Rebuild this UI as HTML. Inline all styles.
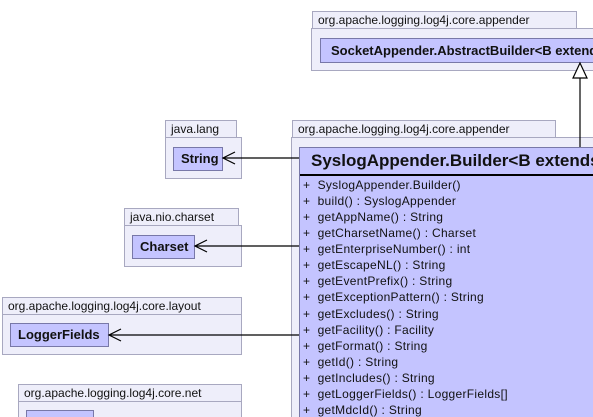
<!DOCTYPE html>
<html><head><meta charset="utf-8"><style>
body{margin:0;width:593px;height:417px;overflow:hidden;background:#fff;font-family:"Liberation Sans",sans-serif;position:relative}
.a{position:absolute;box-sizing:border-box}
.tab{background:#eeeefa;border:1px solid #a8a8c0;font-size:12px;line-height:16px;padding-left:5px;color:#111;white-space:nowrap;overflow:hidden}
.pk{background:#eeeefa;border:1px solid #a8a8c0}
.cl{background:#c4c4ff;border:1px solid #7878a8;font-weight:bold;font-size:13px;line-height:22px;padding-left:7px;white-space:nowrap;overflow:hidden;color:#111}
.m{font-size:12px;line-height:16.07px;white-space:nowrap;padding-left:3px;color:#111;letter-spacing:0.3px}
</style></head><body>
<div class="a pk" style="left:311px;top:28px;width:282px;height:43px;border-right:none"></div>
<div class="a tab" style="left:312px;top:11px;width:265px;height:18px">org.apache.logging.log4j.core.appender</div>
<div class="a cl" style="left:320px;top:38px;width:273px;height:25px;line-height:23px;padding-left:10px;border-right:none">SocketAppender.AbstractBuilder&lt;B extends</div>

<div class="a pk" style="left:291px;top:137px;width:302px;height:280px;border-right:none;border-bottom:none"></div>
<div class="a tab" style="left:292px;top:120px;width:264px;height:18px">org.apache.logging.log4j.core.appender</div>
<div class="a" style="left:299px;top:147px;width:294px;height:270px;background:#c4c4ff;border:1px solid #7878a8;border-right:none;border-bottom:none;overflow:hidden">
<div style="font-weight:bold;font-size:17px;line-height:26px;padding-left:11px;white-space:nowrap;color:#111">SyslogAppender.Builder&lt;B extends</div>
<div style="border-top:2px solid #000"></div>
<div style="padding-top:1px">
<div class="m">+&nbsp; SyslogAppender.Builder()</div>
<div class="m">+&nbsp; build() : SyslogAppender</div>
<div class="m">+&nbsp; getAppName() : String</div>
<div class="m">+&nbsp; getCharsetName() : Charset</div>
<div class="m">+&nbsp; getEnterpriseNumber() : int</div>
<div class="m">+&nbsp; getEscapeNL() : String</div>
<div class="m">+&nbsp; getEventPrefix() : String</div>
<div class="m">+&nbsp; getExceptionPattern() : String</div>
<div class="m">+&nbsp; getExcludes() : String</div>
<div class="m">+&nbsp; getFacility() : Facility</div>
<div class="m">+&nbsp; getFormat() : String</div>
<div class="m">+&nbsp; getId() : String</div>
<div class="m">+&nbsp; getIncludes() : String</div>
<div class="m">+&nbsp; getLoggerFields() : LoggerFields[]</div>
<div class="m">+&nbsp; getMdcId() : String</div>
</div></div>

<div class="a pk" style="left:165px;top:137px;width:77px;height:42px"></div>
<div class="a tab" style="left:165px;top:120px;width:72px;height:18px">java.lang</div>
<div class="a cl" style="left:173px;top:147px;width:50px;height:24px">String</div>

<div class="a pk" style="left:124px;top:225px;width:118px;height:42px"></div>
<div class="a tab" style="left:124px;top:208px;width:115px;height:18px">java.nio.charset</div>
<div class="a cl" style="left:132px;top:235px;width:63px;height:24px">Charset</div>

<div class="a pk" style="left:2px;top:314px;width:240px;height:41px"></div>
<div class="a tab" style="left:2px;top:297px;width:240px;height:18px">org.apache.logging.log4j.core.layout</div>
<div class="a cl" style="left:10px;top:323px;width:99px;height:24px">LoggerFields</div>

<div class="a pk" style="left:18px;top:401px;width:224px;height:16px;border-bottom:none"></div>
<div class="a tab" style="left:18px;top:384px;width:224px;height:18px">org.apache.logging.log4j.core.net</div>
<div class="a cl" style="left:26px;top:410px;width:68px;height:7px;border-bottom:none"></div>

<svg class="a" style="left:0;top:0" width="593" height="417">
<g stroke="#000" stroke-width="1.2" fill="none">
<line x1="223" y1="158" x2="299" y2="158"/><polyline points="235,152 223,158 235,164"/>
<line x1="195" y1="246" x2="299" y2="246"/><polyline points="207,240 195,246 207,252"/>
<line x1="109" y1="335" x2="299" y2="335"/><polyline points="121,329 109,335 121,341"/>
<line x1="580" y1="78" x2="580" y2="147"/>
<polygon points="580,63 573,78 587,78" fill="#fff"/>
</g></svg>
</body></html>
